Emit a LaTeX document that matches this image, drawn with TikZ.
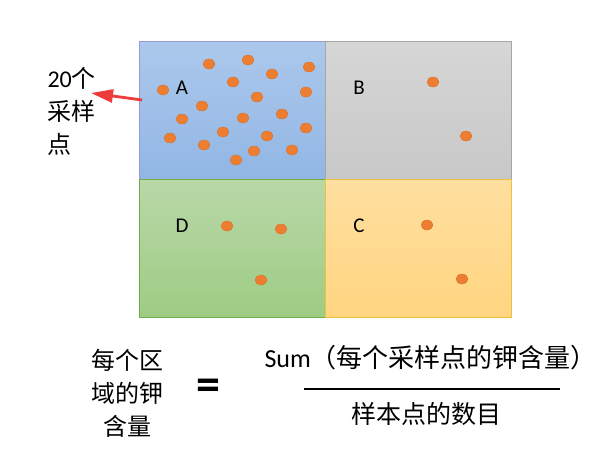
\documentclass[tikz,border=0pt]{standalone}
\usepackage{fontspec}
\setmainfont{Carlito}
\newfontfamily\cjk{Noto Sans CJK SC}
\usetikzlibrary{arrows.meta,shapes.geometric}
\definecolor{dotorange}{HTML}{ED7D31}
\definecolor{arrowred}{HTML}{EE3B3B}
\tikzset{regbox/.style={
    rectangle,
    draw,
    minimum width=186pt,
    minimum height=138pt,
    anchor=north west
  },
  abox/.style={regbox,draw=black!35!blue!40,top color={rgb,255:red,172;green,200;blue,236},bottom color={rgb,255:red,145;green,182;blue,228}},
  bbox/.style={regbox,draw=black!35,top color={rgb,255:red,214;green,214;blue,214},bottom color={rgb,255:red,200;green,200;blue,200}},
  dbox/.style={regbox,draw={rgb,255:red,112;green,173;blue,71},top color={rgb,255:red,185;green,216;blue,168},bottom color={rgb,255:red,158;green,204;blue,132}},
  cbox/.style={regbox,draw={rgb,255:red,240;green,192;blue,64},top color={rgb,255:red,255;green,223;blue,160},bottom color={rgb,255:red,255;green,213;blue,128}},
  sdot/.style={ellipse,fill=dotorange,draw=dotorange!90!black,line width=0.3pt,minimum width=12pt,minimum height=10pt,inner sep=0pt},
  reglbl/.style={font=\fontsize{21}{21}\selectfont},
  cjktext/.style={font=\fontsize{24}{33}\selectfont\cjk,align=center},
}
\begin{document}
\begin{tikzpicture}[x=1pt,y=-1pt]
  \useasboundingbox[fill=white] (0,0) rectangle (613,467);
  % four regions
  \node[abox] (rA) at (139,41) {};
  \node[bbox] (rB) at (325,41) {};
  \node[dbox] (rD) at (139,179) {};
  \node[cbox] (rC) at (325,179) {};
  \node[reglbl] (lA) at (182,88) {A};
  \node[reglbl] (lB) at (359,88) {B};
  \node[reglbl] (lD) at (182,226) {D};
  \node[reglbl] (lC) at (359,226) {C};
  % sample points
  \foreach \x/\y in {209/64,248/60,272/74,309/67,163/90,233/82,257/97,306/92,
    202/106,182/119,243/118,282/114,306/128,170/138,223/132,267/136,
    204/145,254/151,292/150,236/160,
    433/82,466/136,227/226,281/229,261/280,427/225,462/279}
    \node[sdot] at (\x,\y) {};
  % count label
  \node[cjktext,align=left,anchor=north west] (cnt) at (44,64) {{\fontspec{Carlito}20}个\\采样\\点};
  \coordinate (tail) at (142,100);
  \coordinate (head) at (91,93);
  \draw[arrowred,line width=2.8pt,-{Triangle[length=22pt,width=13pt]}] (tail) -- (head);
  % formula
  \node[cjktext] (lhs) at (127,393) {每个区\\域的钾\\含量};
  \node[font=\fontsize{48}{48}\selectfont\bfseries] (eq) at (208,390) {=};
  \node[font=\fontsize{26}{26}\selectfont,anchor=west] (num) at (261,358) {Sum{\cjk（每个采样点的钾含量）}};
  \node[cjktext,font=\fontsize{25}{33}\selectfont\cjk] (den) at (426,414) {样本点的数目};
  \coordinate (barl) at (304,389);
  \coordinate (barr) at (560,389);
  \draw[line width=1.3pt] (barl) -- (barr);
\end{tikzpicture}
\end{document}
